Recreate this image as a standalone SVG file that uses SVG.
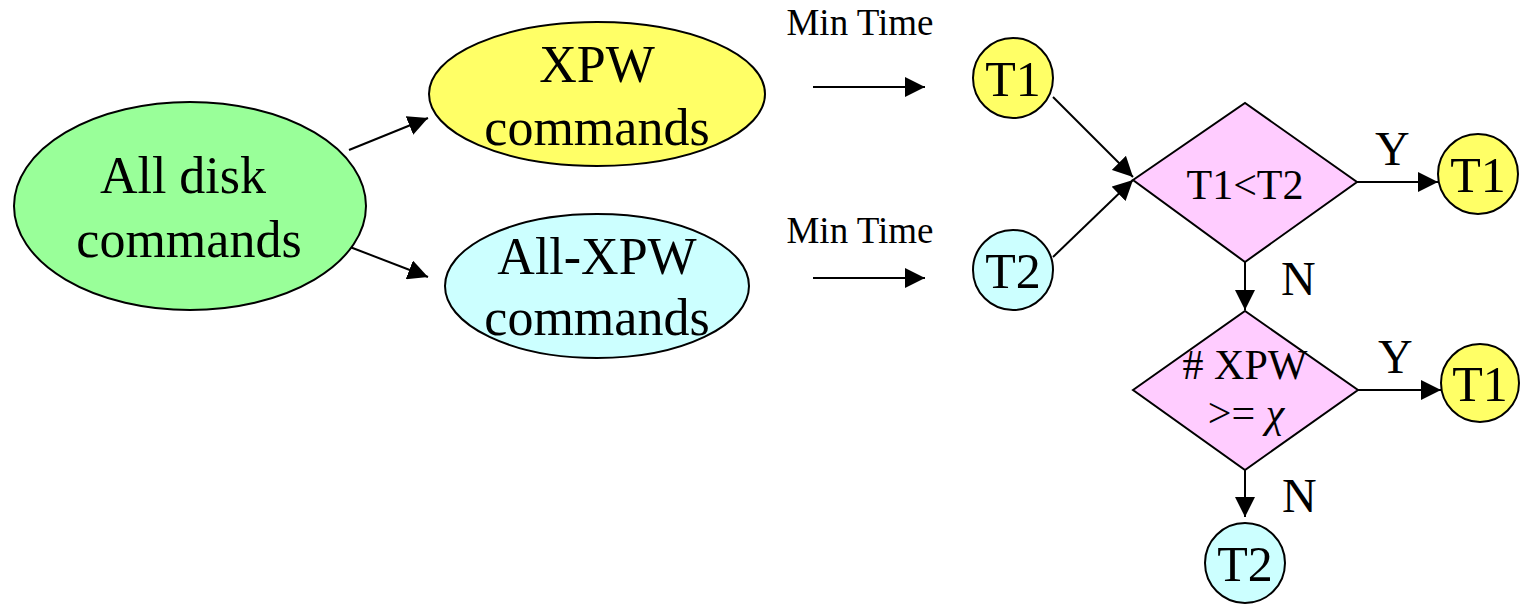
<svg xmlns="http://www.w3.org/2000/svg" width="1524" height="604" viewBox="0 0 1524 604">
  <style>
    .shape { stroke: #000; stroke-width: 2; }
    .green { fill: #99FF99; }
    .yellow { fill: #FFFF66; }
    .cyan { fill: #CCFFFF; }
    .pink { fill: #FFCCFF; }
    text { font-family: "Liberation Serif", "Times New Roman", serif; fill: #000; text-anchor: middle; }
    .big { font-size: 52px; }
    .mid { font-size: 50px; }
    .cond { font-size: 42px; }
    .lbl { font-size: 37px; }
    .yn { font-size: 48px; text-anchor: start; }
    .edge { stroke: #000; stroke-width: 2; fill: none; marker-end: url(#arrow); }
  </style>
  <defs>
    <marker id="arrow" markerUnits="userSpaceOnUse" markerWidth="22" markerHeight="20" refX="20" refY="10" orient="auto">
      <path d="M0,0 L20,10 L0,20 z" fill="#000"/>
    </marker>
  </defs>

  <rect width="1524" height="604" fill="#fff"/>

  <g id="connectors">
    <line class="edge" x1="349" y1="150" x2="428" y2="118"/>
    <line class="edge" x1="350" y1="247" x2="428" y2="277"/>
    <line class="edge" x1="813" y1="87" x2="925" y2="87"/>
    <line class="edge" x1="813" y1="278" x2="925" y2="278"/>
    <line class="edge" x1="1053" y1="97" x2="1133" y2="177"/>
    <line class="edge" x1="1053" y1="257" x2="1133" y2="180"/>
    <line class="edge" x1="1357" y1="182" x2="1438" y2="182"/>
    <line class="edge" x1="1245" y1="262" x2="1245" y2="310"/>
    <line class="edge" x1="1358" y1="390" x2="1441" y2="390"/>
    <line class="edge" x1="1245" y1="470" x2="1245" y2="517"/>
    <text class="lbl" x="860" y="35">Min Time</text>
    <text class="lbl" x="860" y="243">Min Time</text>
    <text class="yn" x="1375" y="165">Y</text>
    <text class="yn" x="1281" y="295">N</text>
    <text class="yn" x="1378" y="373">Y</text>
    <text class="yn" x="1282" y="512">N</text>
  </g>

  <g id="all-disk">
    <ellipse class="shape green" cx="190" cy="206" rx="176" ry="104"/>
    <text class="big" x="183" y="193">All disk</text>
    <text class="big" x="189" y="257">commands</text>
  </g>

  <g id="xpw">
    <ellipse class="shape yellow" cx="597" cy="94" rx="168" ry="72"/>
    <text class="big" x="597" y="82">XPW</text>
    <text class="big" x="597" y="145">commands</text>
  </g>

  <g id="all-minus-xpw">
    <ellipse class="shape cyan" cx="597" cy="286" rx="152" ry="72"/>
    <text class="big" x="597" y="274">All-XPW</text>
    <text class="big" x="597" y="335">commands</text>
  </g>

  <g id="t1-top">
    <circle class="shape yellow" cx="1013" cy="78" r="40"/>
    <text class="mid" x="1013" y="96">T1</text>
  </g>

  <g id="t2-mid">
    <circle class="shape cyan" cx="1013" cy="270" r="40"/>
    <text class="mid" x="1013" y="288">T2</text>
  </g>

  <g id="compare-times">
    <polygon class="shape pink" points="1133,180 1245,103 1357,182 1245,262"/>
    <text class="cond" x="1245" y="199">T1&lt;T2</text>
  </g>

  <g id="t1-yes">
    <circle class="shape yellow" cx="1478" cy="174" r="40"/>
    <text class="mid" x="1478" y="192">T1</text>
  </g>

  <g id="compare-count">
    <polygon class="shape pink" points="1133,390 1245,311 1358,390 1245,470"/>
    <text class="cond" x="1245" y="379"># XPW</text>
    <text class="cond" x="1246" y="427">&gt;= <tspan font-style="italic">χ</tspan></text>
  </g>

  <g id="t1-count">
    <circle class="shape yellow" cx="1480" cy="383" r="39"/>
    <text class="mid" x="1480" y="401">T1</text>
  </g>

  <g id="t2-bottom">
    <circle class="shape cyan" cx="1245" cy="563" r="40"/>
    <text class="mid" x="1245" y="581">T2</text>
  </g>
</svg>
